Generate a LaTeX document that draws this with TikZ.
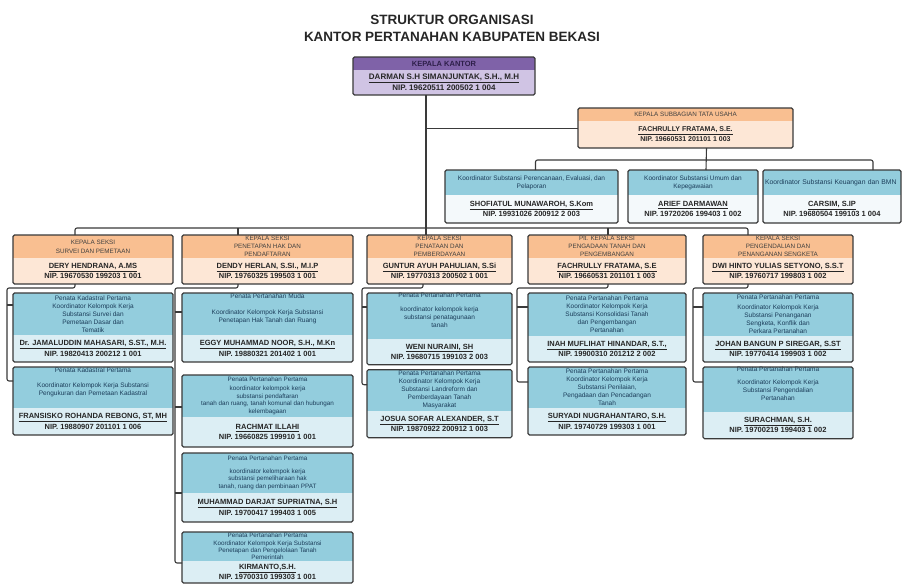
\documentclass[tikz,border=0pt]{standalone}
\usepackage{fontspec}
\setmainfont{Liberation Sans}
\usetikzlibrary{positioning}

\definecolor{purpleH}{HTML}{7F62A8}
\definecolor{purpleB}{HTML}{D0C4E4}
\definecolor{purpleT}{HTML}{2E1F4A}
\definecolor{orangeH}{HTML}{F9BF91}
\definecolor{orangeB}{HTML}{FDE7D6}
\definecolor{blueH}{HTML}{93CDDD}
\definecolor{blueB}{HTML}{DCEEF4}
\definecolor{paleB}{HTML}{F4F9FB}
\definecolor{blueT}{HTML}{1C3D5A}
\definecolor{linegray}{HTML}{3A3A3A}

\begin{document}
\begin{tikzpicture}[
    x=1pt, y=-1pt,
    every node/.style={inner sep=0pt, outer sep=0pt, align=center},
    link/.style={draw=linegray, line width=1.1pt, rounded corners=2pt},
    frame/.style={draw=linegray, line width=1.1pt, rounded corners=1.5pt},
    title/.style={font=\fontsize{13.5}{16}\selectfont\bfseries, text=black!85},
    tophead/.style={anchor=north west, fill=purpleH, text=purpleT, font=\fontsize{7.5}{9}\selectfont\bfseries},
    topbody/.style={fill=purpleB, text=black!85, font=\fontsize{8}{11}\selectfont\bfseries},
    sechead/.style={anchor=north west, fill=orangeH, text=black!75, font=\fontsize{6.3}{7.8}\selectfont},
    secbody/.style={fill=orangeB, text=black!85, font=\fontsize{7.5}{10.6}\selectfont\bfseries},
    subhead/.style={anchor=north west, fill=blueH, text=blueT, font=\fontsize{6.5}{8}\selectfont},
    subbody/.style={fill=blueB, text=black!85, font=\fontsize{7.5}{10.4}\selectfont\bfseries},
    coorbody/.style={subbody, fill=paleB}
]
\path[use as bounding box, fill=white] (0,0) rectangle (902,586);

% judul
\node[title] (judul1) at (452,20) {STRUKTUR ORGANISASI};
\node[title, below=7pt of judul1] (judul2) {KANTOR PERTANAHAN KABUPATEN BEKASI};

% kepala kantor
\node[tophead, minimum width=182pt, minimum height=13pt] (kakan) at (353,57) {KEPALA KANTOR};
\node[topbody, minimum width=182pt, minimum height=25pt, below=0pt of kakan] (kakan-n) {\underline{DARMAN S.H SIMANJUNTAK, S.H., M.H}\\NIP. 19620511 200502 1 004};
\draw[frame] (kakan.north west) rectangle (kakan-n.south east);

% subbagian tata usaha
\node[sechead, minimum width=215pt, minimum height=13pt] (tu) at (578,108) {KEPALA SUBBAGIAN TATA USAHA};
\node[secbody, font=\fontsize{7}{10}\selectfont\bfseries, minimum width=215pt, minimum height=27pt, below=0pt of tu] (tu-n) {\underline{FACHRULLY FRATAMA, S.E.}\\NIP. 19660531 201101 1 003};
\draw[frame] (tu.north west) rectangle (tu-n.south east);

% koordinator substansi
\node[subhead, minimum width=173pt, minimum height=25pt] (ko1) at (445,170) {Koordinator Substansi Perencanaan, Evaluasi, dan\\Pelaporan};
\node[coorbody, minimum width=173pt, minimum height=28pt, below=0pt of ko1] (ko1-n) {\underline{SHOFIATUL MUNAWAROH, S.Kom}\\NIP. 19931026 200912 2 003};
\draw[frame] (ko1.north west) rectangle (ko1-n.south east);

\node[subhead, minimum width=130pt, minimum height=25pt] (ko2) at (628,170) {Koordinator Substansi Umum dan\\Kepegawaian};
\node[coorbody, minimum width=130pt, minimum height=28pt, below=0pt of ko2] (ko2-n) {\underline{ARIEF DARMAWAN}\\NIP. 19720206 199403 1 002};
\draw[frame] (ko2.north west) rectangle (ko2-n.south east);

\node[subhead, font=\fontsize{6.8}{8}\selectfont, minimum width=138pt, minimum height=25pt, text width=134pt, align=left] (ko3) at (763,170) {\rlap{Koordinator Substansi Keuangan dan BMN}};
\node[coorbody, minimum width=138pt, minimum height=28pt, below=0pt of ko3] (ko3-n) {\underline{CARSIM, S.IP}\\NIP. 19680504 199103 1 004};
\draw[frame] (ko3.north west) rectangle (ko3-n.south east);

% kepala seksi
\node[sechead, minimum width=160pt, minimum height=23pt] (sek1) at (13,235) {KEPALA SEKSI\\[1.5pt]SURVEI DAN PEMETAAN};
\node[secbody, minimum width=160pt, minimum height=26pt, below=0pt of sek1] (sek1-n) {\underline{DERY HENDRANA, A.MS}\\NIP. 19670530 199203 1 001};
\draw[frame] (sek1.north west) rectangle (sek1-n.south east);

\node[sechead, minimum width=171pt, minimum height=23pt] (sek2) at (182,235) {KEPALA SEKSI\\PENETAPAN HAK DAN\\PENDAFTARAN};
\node[secbody, minimum width=171pt, minimum height=26pt, below=0pt of sek2] (sek2-n) {\underline{DENDY HERLAN, S.SI., M.I.P}\\NIP. 19760325 199503 1 001};
\draw[frame] (sek2.north west) rectangle (sek2-n.south east);

\node[sechead, minimum width=145pt, minimum height=23pt] (sek3) at (367,235) {KEPALA SEKSI\\PENATAAN DAN\\PEMBERDAYAAN};
\node[secbody, minimum width=145pt, minimum height=26pt, below=0pt of sek3] (sek3-n) {\underline{GUNTUR AYUH PAHULIAN, S.Si}\\NIP. 19770313 200502 1 001};
\draw[frame] (sek3.north west) rectangle (sek3-n.south east);

\node[sechead, minimum width=158pt, minimum height=23pt] (sek4) at (528,235) {Plt. KEPALA SEKSI\\PENGADAAN TANAH DAN\\PENGEMBANGAN};
\node[secbody, minimum width=158pt, minimum height=26pt, below=0pt of sek4] (sek4-n) {\underline{FACHRULLY FRATAMA, S.E}\\NIP. 19660531 201101 1 003};
\draw[frame] (sek4.north west) rectangle (sek4-n.south east);

\node[sechead, minimum width=150pt, minimum height=23pt] (sek5) at (703,235) {KEPALA SEKSI\\PENGENDALIAN DAN\\PENANGANAN SENGKETA};
\node[secbody, minimum width=150pt, minimum height=26pt, below=0pt of sek5] (sek5-n) {\underline{DWI HINTO YULIAS SETYONO, S.S.T}\\NIP. 19760717 199803 1 002};
\draw[frame] (sek5.north west) rectangle (sek5-n.south east);

% kolom 1
\node[subhead, minimum width=160pt, minimum height=42pt, anchor=north, below=9pt of sek1-n] (f1a) {Penata Kadastral Pertama\\Koordinator Kelompok Kerja\\Substansi Survei dan\\Pemetaan Dasar dan\\Tematik};
\node[subbody, minimum width=160pt, minimum height=27pt, below=0pt of f1a] (f1a-n) {\underline{Dr. JAMALUDDIN MAHASARI, S.ST., M.H.}\\NIP. 19820413 200212 1 001};
\draw[frame] (f1a.north west) rectangle (f1a-n.south east);

\node[subhead, minimum width=160pt, minimum height=41pt, anchor=north, below=5pt of f1a-n] (f1b) {Penata Kadastral Pertama\\[7pt]Koordinator Kelompok Kerja Substansi\\Pengukuran dan Pemetaan Kadastral\\[4pt]};
\node[subbody, minimum width=160pt, minimum height=27pt, below=0pt of f1b] (f1b-n) {\underline{FRANSISKO ROHANDA REBONG, ST, MH}\\NIP. 19880907 201101 1 006};
\draw[frame] (f1b.north west) rectangle (f1b-n.south east);

% kolom 2
\node[subhead, minimum width=171pt, minimum height=42pt, anchor=north, below=9pt of sek2-n] (f2a) {Penata Pertanahan Muda\\[8pt]Koordinator Kelompok Kerja Substansi\\Penetapan Hak Tanah dan Ruang\\[4pt]};
\node[subbody, minimum width=171pt, minimum height=27pt, below=0pt of f2a] (f2a-n) {\underline{EGGY MUHAMMAD NOOR, S.H., M.Kn}\\NIP. 19880321 201402 1 001};
\draw[frame] (f2a.north west) rectangle (f2a-n.south east);

\node[subhead, font=\fontsize{6.3}{7.6}\selectfont, minimum width=171pt, minimum height=42pt, anchor=north, below=13pt of f2a-n] (f2b) {Penata Pertanahan Pertama\\[1pt]koordinator kelompok kerja\\substansi pendaftaran\\tanah dan ruang, tanah komunal dan hubungan\\kelembagaan};
\node[subbody, minimum width=171pt, minimum height=30pt, below=0pt of f2b] (f2b-n) {\underline{RACHMAT ILLAHI}\\NIP. 19660825 199910 1 001};
\draw[frame] (f2b.north west) rectangle (f2b-n.south east);

\node[subhead, font=\fontsize{6.3}{7.6}\selectfont, minimum width=171pt, minimum height=40pt, anchor=north, below=6pt of f2b-n] (f2c) {Penata Pertanahan Pertama\\[5pt]koordinator kelompok kerja\\substansi pemeliharaan hak\\tanah, ruang dan pembinaan PPAT};
\node[subbody, minimum width=171pt, minimum height=29pt, below=0pt of f2c] (f2c-n) {\underline{MUHAMMAD DARJAT SUPRIATNA, S.H}\\NIP. 19700417 199403 1 005};
\draw[frame] (f2c.north west) rectangle (f2c-n.south east);

\node[subhead, font=\fontsize{6.3}{7.4}\selectfont, minimum width=171pt, minimum height=29pt, anchor=north, below=10pt of f2c-n] (f2d) {Penata Pertanahan Pertama\\Koordinator Kelompok Kerja Substansi\\Penetapan dan Pengelolaan Tanah\\Pemerintah};
\node[subbody, font=\fontsize{7.5}{9.6}\selectfont\bfseries, minimum width=171pt, minimum height=22pt, below=0pt of f2d] (f2d-n) {\underline{KIRMANTO,S.H.}\\NIP. 19700310 199303 1 001};
\draw[frame] (f2d.north west) rectangle (f2d-n.south east);

% kolom 3
\node[subhead, minimum width=145pt, minimum height=43pt, anchor=north, below=9pt of sek3-n] (f3a) {Penata Pertanahan Pertama\\[6pt]koordinator kelompok kerja\\substansi penatagunaan\\tanah\\[3pt]};
\node[subbody, minimum width=145pt, minimum height=26pt, below=0pt of f3a] (f3a-n) {\underline{WENI NURAINI, SH}\\NIP. 19680715 199103 2 003};
\draw[frame] (f3a.north west) rectangle (f3a-n.south east);

\node[subhead, minimum width=145pt, minimum height=41pt, anchor=north, below=5pt of f3a-n] (f3b) {Penata Pertanahan Pertama\\Koordinator Kelompok Kerja\\Substansi Landreform dan\\Pemberdayaan Tanah\\Masyarakat};
\node[subbody, minimum width=145pt, minimum height=27pt, below=0pt of f3b] (f3b-n) {\underline{JOSUA SOFAR ALEXANDER, S.T}\\NIP. 19870922 200912 1 003};
\draw[frame] (f3b.north west) rectangle (f3b-n.south east);

% kolom 4
\node[subhead, minimum width=158pt, minimum height=43pt, anchor=north, below=9pt of sek4-n] (f4a) {Penata Pertanahan Pertama\\Koordinator Kelompok Kerja\\Substansi Konsolidasi Tanah\\dan Pengembangan\\Pertanahan};
\node[subbody, minimum width=158pt, minimum height=26pt, below=0pt of f4a] (f4a-n) {\underline{INAH MUFLIHAT HINANDAR, S.T.,}\\NIP. 19900310 201212 2 002};
\draw[frame] (f4a.north west) rectangle (f4a-n.south east);

\node[subhead, minimum width=158pt, minimum height=41pt, anchor=north, below=5pt of f4a-n] (f4b) {Penata Pertanahan Pertama\\Koordinator Kelompok Kerja\\Substansi Penilaian,\\Pengadaan dan Pencadangan\\Tanah};
\node[subbody, minimum width=158pt, minimum height=27pt, below=0pt of f4b] (f4b-n) {\underline{SURYADI NUGRAHANTARO, S.H.}\\NIP. 19740729 199303 1 001};
\draw[frame] (f4b.north west) rectangle (f4b-n.south east);

% kolom 5
\node[subhead, minimum width=150pt, minimum height=43pt, anchor=north, below=9pt of sek5-n] (f5a) {Penata Pertanahan Pertama\\[2pt]Koordinator Kelompok Kerja\\Substansi Penanganan\\Sengketa, Konflik dan\\Perkara Pertanahan};
\node[subbody, minimum width=150pt, minimum height=26pt, below=0pt of f5a] (f5a-n) {\underline{JOHAN BANGUN P SIREGAR, S.ST}\\NIP. 19770414 199903 1 002};
\draw[frame] (f5a.north west) rectangle (f5a-n.south east);

\node[subhead, minimum width=150pt, minimum height=41pt, anchor=north, below=5pt of f5a-n] (f5b) {Penata Pertanahan Pertama\\[5pt]Koordinator Kelompok Kerja\\Substansi Pengendalian\\Pertanahan\\[3pt]};
\node[subbody, minimum width=150pt, minimum height=27pt, below=0pt of f5b] (f5b-n) {\underline{SURACHMAN, S.H.}\\NIP. 19700219 199403 1 002};
\draw[frame] (f5b.north west) rectangle (f5b-n.south east);

% garis komando
\draw[link] ([xshift=-18pt]kakan-n.south) coordinate (stem) -- (stem |- sek3.north);
\coordinate (tu-in) at ([yshift=6pt]tu-n.west);
\draw[link] (stem |- tu-in) -- (tu-in);
\draw[link] ([xshift=-18pt]sek1.north) -- ++(0,-7) -| ([xshift=-30pt]sek5.north);
\draw[link] ([xshift=-29.5pt]sek2.north) -- ++(0,-7);
\draw[link] ([xshift=1pt]sek4.north) -- ++(0,-7);

% garis ke koordinator
\draw[link] ([xshift=21pt]tu-n.south) -- ([xshift=13pt]ko2.north);
\draw[link] ([xshift=4pt]ko1.north) -- ++(0,-10) -| ([xshift=41pt]ko3.north);

% garis ke fungsional
\draw[link] ([xshift=-18pt]sek1-n.south) -- ++(0,4) -| ([xshift=-6pt,yshift=-14pt]f1b.north west) -- ([yshift=-14pt]f1b.north west);
\draw[link] ([xshift=-6pt,yshift=-12pt]f1a.north west) -- ++(6,0);

\draw[link] ([xshift=-29.5pt]sek2-n.south) -- ++(0,4) -| ([xshift=-7pt,yshift=-31pt]f2d.north west) -- ([yshift=-31pt]f2d.north west);
\draw[link] ([xshift=-7pt,yshift=-19pt]f2a.north west) -- ++(7,0);
\draw[link] ([xshift=-7pt,yshift=-32pt]f2b.north west) -- ++(7,0);
\draw[link] ([xshift=-7pt,yshift=-40pt]f2c.north west) -- ++(7,0);

\draw[link] ([xshift=-16.5pt]sek3-n.south) -- ++(0,4) -| ([xshift=-5pt,yshift=-15pt]f3b.north west) -- ([yshift=-15pt]f3b.north west);
\draw[link] ([xshift=-5pt,yshift=-14pt]f3a.north west) -- ++(5,0);

\draw[link] ([xshift=1pt]sek4-n.south) -- ++(0,4) -| ([xshift=-11pt,yshift=-15pt]f4b.north west) -- ([yshift=-15pt]f4b.north west);
\draw[link] ([xshift=-11pt,yshift=-14pt]f4a.north west) -- ++(11,0);

\draw[link] ([xshift=-30pt]sek5-n.south) -- ++(0,4) -| ([xshift=-10pt,yshift=-15pt]f5b.north west) -- ([yshift=-15pt]f5b.north west);
\draw[link] ([xshift=-10pt,yshift=-14pt]f5a.north west) -- ++(10,0);

\end{tikzpicture}
\end{document}
